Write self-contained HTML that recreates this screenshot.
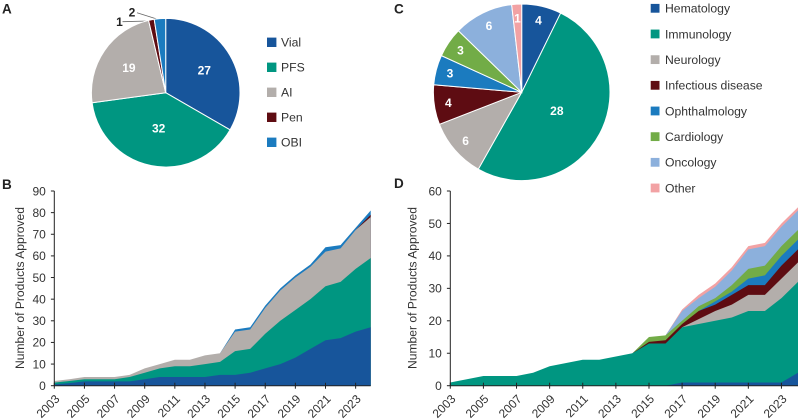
<!DOCTYPE html>
<html>
<head>
<meta charset="utf-8">
<style>
html,body{margin:0;padding:0;background:#fff;width:800px;height:419px;overflow:hidden}
svg{display:block;font-family:"Liberation Sans",sans-serif}
text{fill:#333}
</style>
</head>
<body>
<svg id="figure" width="800" height="419" viewBox="0 0 800 419" xmlns="http://www.w3.org/2000/svg">
  <text x="2" y="13.5" font-size="13.5" font-weight="bold" style="fill:#222">A</text>
  <text x="2" y="189" font-size="13.5" font-weight="bold" style="fill:#222">B</text>
  <text x="394" y="13.5" font-size="13.5" font-weight="bold" style="fill:#222">C</text>
  <text x="394" y="188" font-size="13.5" font-weight="bold" style="fill:#222">D</text>
  <text transform="translate(24,288) rotate(-90)" text-anchor="middle" font-size="12.1">Number of Products Approved</text>
  <text transform="translate(416.5,288) rotate(-90)" text-anchor="middle" font-size="12.1">Number of Products Approved</text>
  <line x1="122.5" y1="21.7" x2="149" y2="21" stroke="#666" stroke-width="0.8"/>
  <line x1="137" y1="12.7" x2="160" y2="20" stroke="#666" stroke-width="0.8"/>
  <text x="119.5" y="26" text-anchor="middle" font-size="12" font-weight="bold" style="fill:#222">1</text>
  <text x="132" y="16.5" text-anchor="middle" font-size="12" font-weight="bold" style="fill:#222">2</text>
</svg>
<script>
// ---- Panel A: delivery device totals
const deviceNames = ["Vial", "PFS", "AI", "Pen", "OBI"];
const deviceTotals = [27, 32, 19, 1, 2];
const deviceTotalLabels = ["27", "32", "19", "", ""];

// ---- Panel C: therapeutic area totals
const areaNames = ["Hematology", "Immunology", "Neurology", "Infectious disease", "Ophthalmology", "Cardiology", "Oncology", "Other"];
const areaTotals = [4, 28, 6, 4, 3, 3, 6, 1];
const areaTotalLabels = ["4", "28", "6", "4", "3", "3", "6", "1"];

// ---- Shared x axis
const years = [2003,2004,2005,2006,2007,2008,2009,2010,2011,2012,2013,2014,2015,2016,2017,2018,2019,2020,2021,2022,2023,2024];
const yearTickLabels = [2003,2005,2007,2009,2011,2013,2015,2017,2019,2021,2023];

// ---- Panel B: products approved per year by device (stack order)
const bTicks = [0,10,20,30,40,50,60,70,80,90];
const bVial = [0.6,1.2,2,2,2,2,3,4,4,4,4,5,5,6,8,10,13,17,21,22,25,27];
const bPfs  = [0.8,1,1,1,1,2,3,4,5,5,6,6,11,11,16,20,22,23,25,26,29,32];
const bAi   = [0.8,0.8,1,1,1,1,2,2,3,3,4,4,9,9,12,14,15,15,16,15.5,18,19];
const bPen  = [0,0,0,0,0,0,0,0,0,0,0,0,0,0,0,0,0,0,0,0,0,1];
const bObi  = [0,0,0,0,0,0,0,0,0,0,0,0,1,1,1,1,1,1,2,1.5,1,2];

// ---- Panel D: products approved per year by therapeutic area (stack order)
const dTicks = [0,10,20,30,40,50,60];
const dHeme  = [0,0,0,0,0,0,0,0,0,0,0,0,0,0,1,1,1,1,1,1,1,4];
const dImmu  = [1,2,3,3,3,4,6,7,8,8,9,10,13,13,17,18,19,20,22,22,26,28];
const dNeuro = [0,0,0,0,0,0,0,0,0,0,0,0,0,0,0,1.5,3,4,5,5,6,6];
const dInf   = [0,0,0,0,0,0,0,0,0,0,0,0,0.5,1,1,2.5,2,3,3,3,4,4];
const dOph   = [0,0,0,0,0,0,0,0,0,0,0,0,0,0,0,0,1,1,2,3,3,3];
const dCard  = [0,0,0,0,0,0,0,0,0,0,0,0,1.5,1.5,1,1.5,1,2,3,3,3,3];
const dOnc   = [0,0,0,0,0,0,0,0,0,0,0,0,0,0,3,2.5,3.5,4.5,6,6,6,6];
const dOther = [0,0,0,0,0,0,0,0,0,0,0,0,0,0,0.5,1,1,1,1,1,1,1];

const bSeries = [bVial, bPfs, bAi, bPen, bObi];
const dSeries = [dHeme, dImmu, dNeuro, dInf, dOph, dCard, dOnc, dOther];

const deviceColors = ["#17559b", "#009681", "#b3aeab", "#5e0c12", "#1b7bbf"];
const areaColors = ["#17559b", "#009681", "#b3aeab", "#5e0c12", "#1b7bbf", "#72ac47", "#8cb0dc", "#f2a2a4"];

const NS = "http://www.w3.org/2000/svg";
const root = document.getElementById("figure");

function make(tag, attrs, text) {
  const node = document.createElementNS(NS, tag);
  for (const key in attrs) node.setAttribute(key, attrs[key]);
  if (text !== undefined) node.textContent = text;
  root.appendChild(node);
  return node;
}

function slug(s) {
  return String(s).toLowerCase().replace(/[^a-z0-9]+/g, "-");
}

function drawPie(prefix, values, labels, names, colors, cx, cy, r, labelFrac, bigFrac) {
  const total = values.reduce((a, b) => a + b, 0);
  const biggest = Math.max(...values);
  let start = 0;
  values.forEach((v, i) => {
    const sweep = v / total * 2 * Math.PI;
    const end = start + sweep;
    const x0 = cx + r * Math.sin(start), y0 = cy - r * Math.cos(start);
    const x1 = cx + r * Math.sin(end), y1 = cy - r * Math.cos(end);
    const large = sweep > Math.PI ? 1 : 0;
    const slice = make("path", {
      d: `M${cx} ${cy}L${x0} ${y0}A${r} ${r} 0 ${large} 1 ${x1} ${y1}Z`,
      fill: colors[i], stroke: "#fff", "stroke-width": 1
    });
    
    
    start = end;
  });
  start = 0;
  values.forEach((v, i) => {
    const sweep = v / total * 2 * Math.PI;
    const mid = start + sweep / 2;
    start += sweep;
    if (!labels[i]) return;
    const lr = r * (v === biggest ? bigFrac : labelFrac);
    const label = make("text", {
      x: cx + lr * Math.sin(mid), y: cy - lr * Math.cos(mid) + 4.3,
      "text-anchor": "middle", "font-size": 12, "font-weight": "bold",
      style: "fill:#fff"
    }, labels[i]);
    
    
  });
}

function drawLegend(prefix, names, colors, swatchX, textX, firstY, stepY, size) {
  names.forEach((name, i) => {
    const cy = firstY + i * stepY;
    const swatch = make("rect", { x: swatchX, y: cy - size / 2, width: size, height: size, fill: colors[i] });
    
    
    const label = make("text", { x: textX, y: cy + 4.3, "font-size": 12.2 }, name);
    
    
  });
}

function drawArea(prefix, series, names, colors, ticks, x0, x1, y0, y1, tickLabelRight) {
  const firstYear = years[0], lastYear = years[years.length - 1];
  const xScale = yr => x0 + (yr - firstYear) / (lastYear - firstYear) * (x1 - x0);
  const yMax = ticks[ticks.length - 1];
  const yScale = v => y0 - v / yMax * (y0 - y1);

  // cumulative stacks
  const stacks = [];
  series.forEach((vals, k) => {
    stacks.push(vals.map((v, i) => v + (k ? stacks[k - 1][i] : 0)));
  });

  // top series first so lower ones paint over, avoiding seams
  for (let k = series.length - 1; k >= 0; k--) {
    const first = series[k].findIndex(v => v > 0);
    const from = Math.max(0, first - 1);
    let d = "";
    for (let i = from; i < years.length; i++) {
      d += (i === from ? "M" : "L") + xScale(years[i]).toFixed(2) + " " + yScale(stacks[k][i]).toFixed(2);
    }
    d += "L" + xScale(lastYear).toFixed(2) + " " + y0 + "L" + xScale(years[from]).toFixed(2) + " " + y0 + "Z";
    const area = make("path", { d: d, fill: colors[k] });
    
    
  }

  const yAxis = make("line", { x1: x0, x2: x0, y1: y1, y2: y0 + 0.4, stroke: "#222", "stroke-width": 1 });
  
  
  const xAxis = make("line", { x1: x0, x2: x1, y1: y0, y2: y0, stroke: "#222", "stroke-width": 1 });
  
  

  ticks.forEach(t => {
    const y = yScale(t);
    const tick = make("line", { x1: x0 - 3.4, x2: x0, y1: y, y2: y, stroke: "#222", "stroke-width": 1 });
    
    
    const label = make("text", { x: tickLabelRight, y: y + 4.3, "text-anchor": "end", "font-size": 12 }, t);
    
    
  });

  yearTickLabels.forEach(yr => {
    const x = xScale(yr);
    const tick = make("line", { x1: x, x2: x, y1: y0 - 3, y2: y0 + 3, stroke: "#222", "stroke-width": 1 });
    
    
    const ax = x + 6, ay = y0 + 14;
    const label = make("text", {
      x: ax, y: ay, "text-anchor": "end", "font-size": 12,
      transform: `rotate(-45 ${ax} ${ay})`
    }, yr);
    
    
  });
}

drawPie("device-pie", deviceTotals, deviceTotalLabels, deviceNames, deviceColors, 165.7, 92.7, 74.3, 0.6, 0.49);
drawLegend("device", deviceNames, deviceColors, 267, 281, 42.3, 25, 9.4);
drawPie("area-pie", areaTotals, areaTotalLabels, areaNames, areaColors, 521.7, 92.3, 88.3, 0.84, 0.45);
drawLegend("area", areaNames, areaColors, 650.7, 665, 8.3, 25.67, 8.8);
drawArea("device-chart", bSeries, deviceNames, deviceColors, bTicks, 54.3, 370.7, 385.7, 191, 45.8);
drawArea("area-chart", dSeries, areaNames, areaColors, dTicks, 450.3, 798, 385.7, 191, 441.8);
</script>
</body>
</html>
